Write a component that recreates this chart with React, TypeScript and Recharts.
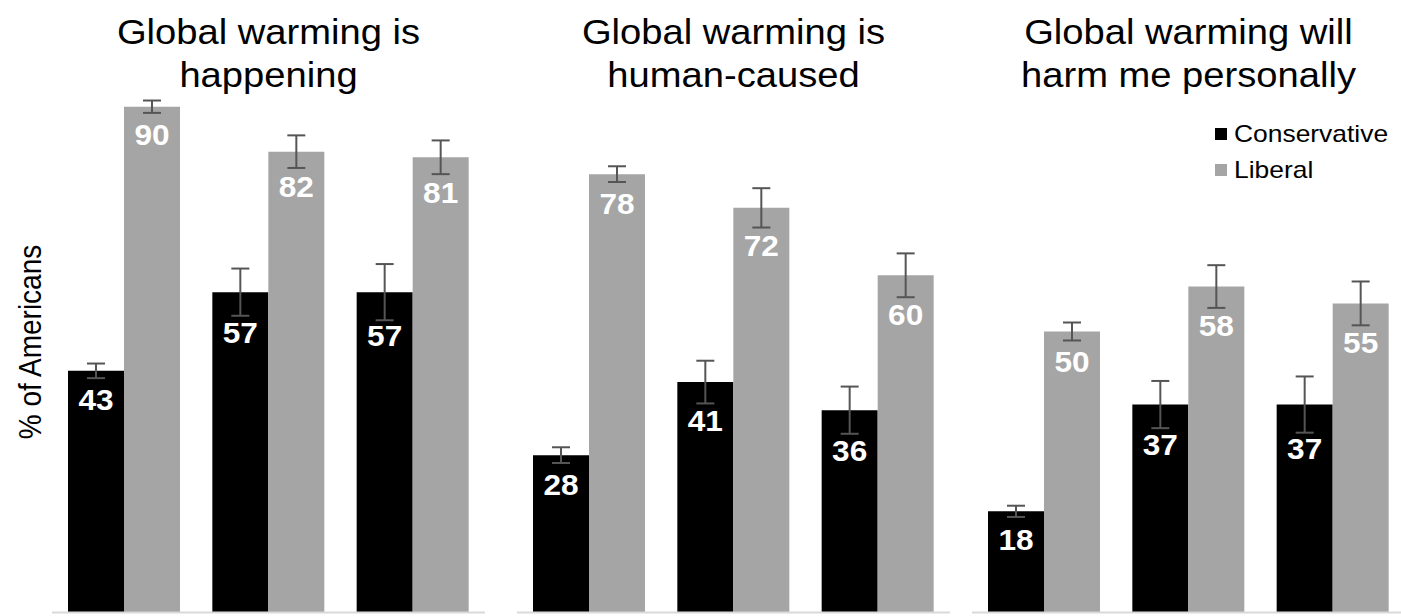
import React from "react"
import { BarChart, Bar, XAxis, YAxis, ErrorBar, LabelList } from "recharts"

// three survey waves per panel (no axis labels shown in the figure)
const waves = ["Wave 1", "Wave 2", "Wave 3"]

const panelTitles = [
  ["Global warming is", "happening"],
  ["Global warming is", "human-caused"],
  ["Global warming will", "harm me personally"],
]

const conservative = [
  [43, 57, 57],
  [28, 41, 36],
  [18, 37, 37],
]
const liberal = [
  [90, 82, 81],
  [78, 72, 60],
  [50, 58, 55],
]
const conservativeErr = [
  [1.3, 4.2, 5],
  [1.4, 3.8, 4.2],
  [1, 4.2, 5],
]
const liberalErr = [
  [1.1, 2.9, 3],
  [1.4, 3.5, 3.9],
  [1.6, 3.8, 3.9],
]

const FONT = '"Liberation Sans", Arial, Helvetica, sans-serif'
const BLACK = "#000000"
const GRAY = "#a5a5a5"
const ERR = "#555555"

const panelLeft = [52, 517, 972]
const PANEL_W = 433

function makeLabel(errs: number[]) {
  return (props: any) => {
    const { x, y, width, height, value, index } = props
    const pxPerUnit = height / value
    const offset = 24 + 0.7 * errs[index] * pxPerUnit
    const cx = x + width / 2
    const cy = y + offset
    return (
      <text
        transform={`translate(${cx},${cy + 10.4}) scale(1.09,1)`}
        textAnchor="middle"
        fill="#fff"
        fontFamily={FONT}
        fontWeight="bold"
        fontSize={29}
      >
        {value}
      </text>
    )
  }
}

function LegendBox() {
  const items = [
    { name: "Conservative", color: BLACK },
    { name: "Liberal", color: GRAY },
  ]
  return (
    <div style={{ position: "absolute", left: 1215, top: 116, fontFamily: FONT }}>
      {items.map((it) => (
        <div key={it.name} style={{ display: "flex", alignItems: "center", height: 36 }}>
          <span style={{ width: 12, height: 12, background: it.color, display: "inline-block", marginRight: 7 }} />
          <span style={{ fontSize: 24, color: "#000", display: "inline-block", transform: "scaleX(1.1)", transformOrigin: "left center" }}>
            {it.name}
          </span>
        </div>
      ))}
    </div>
  )
}

function Panel({ p }: { p: number }) {
  const data = waves.map((w, i) => ({
    wave: w,
    conservative: conservative[p][i],
    liberal: liberal[p][i],
    consErr: conservativeErr[p][i],
    libErr: liberalErr[p][i],
  }))
  return (
    <BarChart
      width={PANEL_W}
      height={616}
      data={data}
      margin={{ top: 50.5, right: 0, left: 0, bottom: 1.5 }}
      barGap={0}
      barSize={56}
    >
      <XAxis
        dataKey="wave"
        height={2}
        tick={false}
        tickLine={false}
        axisLine={{ stroke: "#d9d9d9", strokeWidth: 2 }}
      />
      <YAxis hide domain={[0, 100]} />
      <Bar dataKey="conservative" fill={BLACK} isAnimationActive={false}>
        <ErrorBar dataKey="consErr" width={9} stroke={ERR} strokeWidth={2} isAnimationActive={false} />
        <LabelList dataKey="conservative" content={makeLabel(conservativeErr[p])} />
      </Bar>
      <Bar dataKey="liberal" fill={GRAY} isAnimationActive={false}>
        <ErrorBar dataKey="libErr" width={9} stroke={ERR} strokeWidth={2} isAnimationActive={false} />
        <LabelList dataKey="liberal" content={makeLabel(liberalErr[p])} />
      </Bar>
    </BarChart>
  )
}

export default function App() {
  return (
    <div
      style={{
        position: "absolute",
        left: 0,
        top: 0,
        width: 1401,
        height: 616,
        overflow: "hidden",
        background: "#fff",
        fontFamily: FONT,
      }}
    >
      {panelTitles.map((t, p) => (
        <div
          key={p}
          style={{
            position: "absolute",
            left: panelLeft[p],
            top: 10,
            width: PANEL_W,
            textAlign: "center",
            fontSize: 35,
            lineHeight: "43px",
            color: "#000",
            transform: "scaleX(1.09)",
            zIndex: 2,
          }}
        >
          <div>{t[0]}</div>
          <div>{t[1]}</div>
        </div>
      ))}
      <div
        style={{
          position: "absolute",
          left: 31,
          top: 342,
          transform: "translate(-50%, -50%) rotate(-90deg) scaleY(1.1)",
          whiteSpace: "nowrap",
          fontSize: 28,
          color: "#000",
        }}
      >
        % of Americans
      </div>
      {[0, 1, 2].map((p) => (
        <div key={p} style={{ position: "absolute", left: panelLeft[p], top: 0 }}>
          <Panel p={p} />
        </div>
      ))}
      <LegendBox />
    </div>
  )
}
